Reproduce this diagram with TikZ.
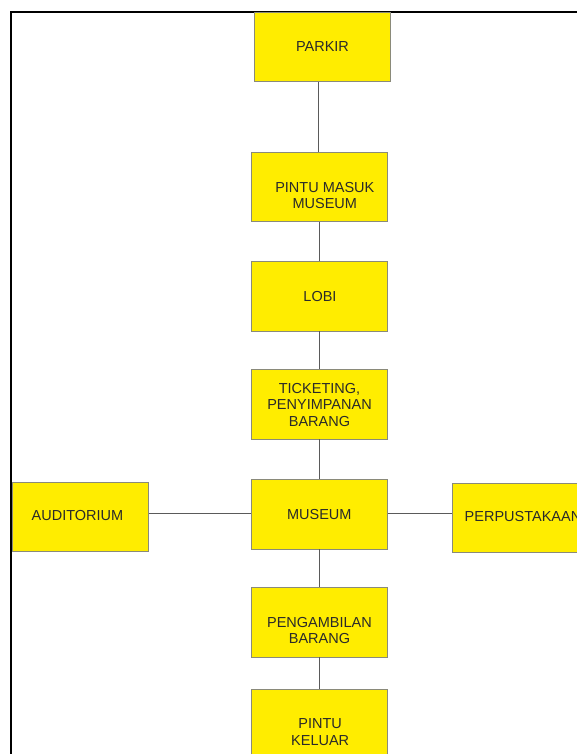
\documentclass[tikz,border=0pt]{standalone}
\usepackage{fontspec}
\setmainfont{Liberation Sans}
\definecolor{boxfill}{HTML}{FFED00}
\definecolor{boxline}{HTML}{8A8A7A}
\definecolor{txtcol}{HTML}{2A2A2A}
\definecolor{linecol}{HTML}{5A5A5A}
\begin{document}
\begin{tikzpicture}[x=1pt,y=-1pt,
  roombox/.style={draw=boxline,fill=boxfill,line width=0.8pt,minimum width=136.5pt,minimum height=69.5pt,inner sep=0pt},
  roomtxt/.style={text=txtcol,font=\fontsize{14.5}{16.5}\selectfont,align=center,inner sep=0pt},
  conn/.style={draw=linecol,line width=0.8pt}]
\useasboundingbox (0,0) rectangle (577,754);
\clip (0,0) rectangle (577,754);
% frame
\draw[line width=2pt,black] (11,800) -- (11,12) -- (600,12);
% boxes
\node[roombox] (parkir) at (322.5,46.8) {};
\node[roombox] (masuk) at (319.3,186.8) {};
\node[roombox] (lobi) at (319.3,296.2) {};
\node[roombox] (ticket) at (319.3,404.3) {};
\node[roombox] (museum) at (319.3,514.2) {};
\node[roombox] (audit) at (80.5,516.7) {};
\node[roombox] (perpus) at (520.3,518) {};
\node[roombox] (ambil) at (319.3,622.3) {};
\node[roombox] (keluar) at (319.3,724.1) {};
% texts
\node[roomtxt] (parkirt) at (322.5,47) {PARKIR};
\node[roomtxt] (masukt) at (324.8,195.5) {PINTU MASUK\\MUSEUM};
\node[roomtxt] (lobit) at (320,296.2) {LOBI};
\node[roomtxt] (tickett) at (319.5,404.8) {TICKETING,\\PENYIMPANAN\\BARANG};
\node[roomtxt] (museumt) at (319.3,514.2) {MUSEUM};
\node[roomtxt] (auditt) at (77.5,515.5) {AUDITORIUM};
\node[roomtxt,anchor=west] (perpust) at (464.5,516.7) {PERPUSTAKAAN};
\node[roomtxt] (ambilt) at (319.5,630.5) {PENGAMBILAN\\BARANG};
\node[roomtxt] (keluart) at (320.2,732.2) {PINTU\\KELUAR};
% connectors
\draw[conn] (parkir.south -| 318,0) -- (masuk.north -| 318,0);
\draw[conn] (masuk.south) -- (lobi.north);
\draw[conn] (lobi.south) -- (ticket.north);
\draw[conn] (ticket.south) -- (museum.north);
\draw[conn] (museum.south) -- (ambil.north);
\draw[conn] (ambil.south) -- (keluar.north);
\draw[conn] (audit.east |- 0,513.3) -- (museum.west |- 0,513.3);
\draw[conn] (museum.east |- 0,513.3) -- (perpus.west |- 0,513.3);
\end{tikzpicture}
\end{document}
